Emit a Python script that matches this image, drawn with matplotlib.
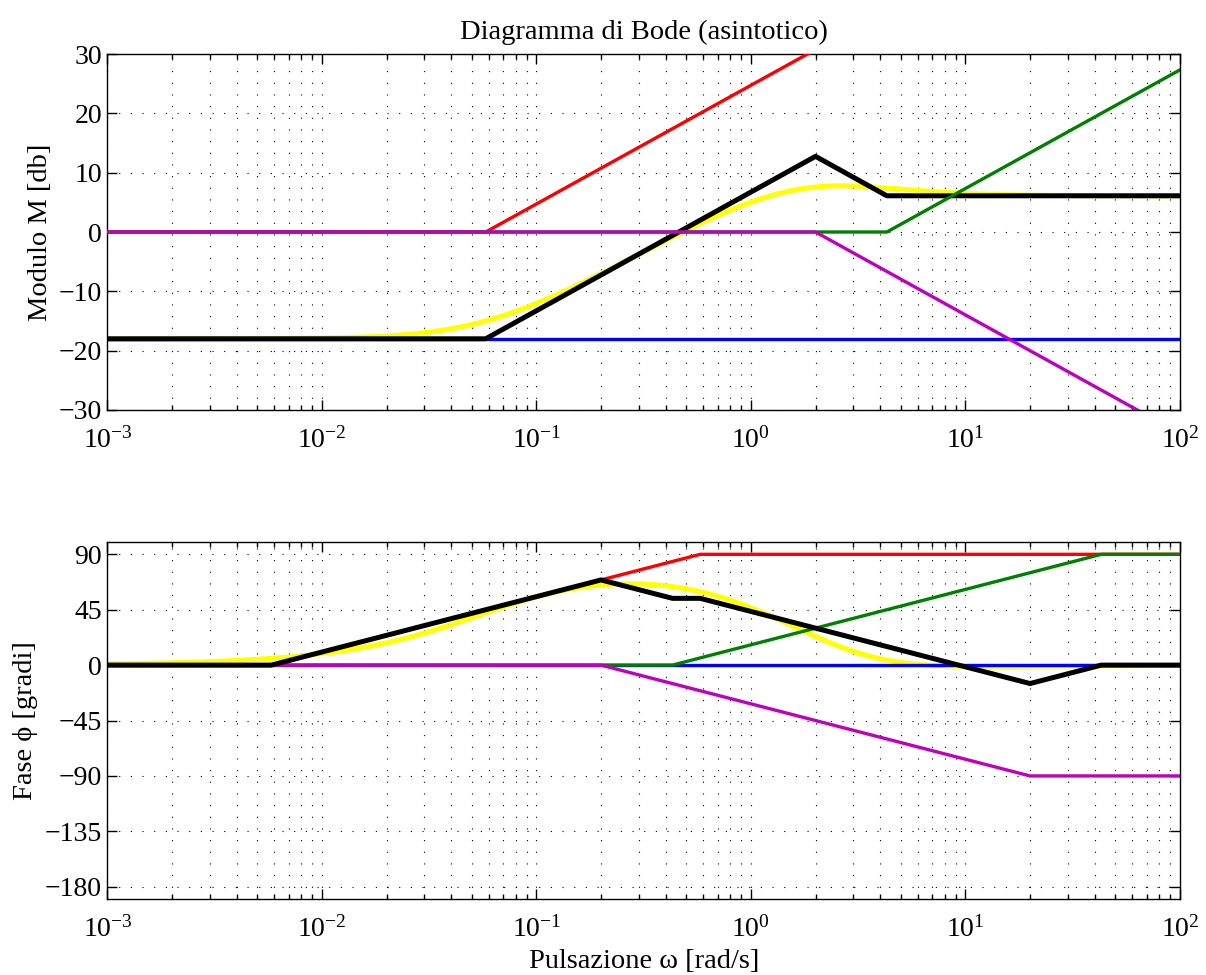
import numpy as np
import matplotlib
matplotlib.use("Agg")
import matplotlib.pyplot as plt
from matplotlib.ticker import LogLocator, NullFormatter

plt.rcParams['font.family'] = ['Liberation Serif', 'DejaVu Serif']
plt.rcParams['mathtext.fontset'] = 'custom'
plt.rcParams['mathtext.rm'] = 'Liberation Serif'
plt.rcParams['mathtext.it'] = 'Liberation Serif:italic'
plt.rcParams['lines.scale_dashes'] = False

# === dati: G(s) = K (1+s/z1)(1+s/z2) / (1+s/p)^2 ===
guadagno_db = -18.0
zeri = [0.058, 4.3]          # rosso, verde
poli = [2.0, 2.0]            # polo doppio (viola, disegnato una volta)
colori_zeri = ['#ff0000', '#008000']
colore_polo = '#bf00bf'
colore_guadagno = '#0000ff'
w_min, w_max = 1e-3, 1e2
tick_modulo = [-30, -20, -10, 0, 10, 20, 30]
tick_fase = [-180, -135, -90, -45, 0, 45, 90]

# === pulsazioni (con i punti di rottura per avere spigoli netti) ===
w = np.logspace(np.log10(w_min), np.log10(w_max), 800)
w = np.union1d(w, [b * f for b in zeri + poli for f in (0.1, 1.0, 10.0)])
w = w[(w >= w_min) & (w <= w_max)]


def modulo_zero(w, wz):
    return 20 * np.log10(np.maximum(1.0, w / wz))


def fase_zero(w, wz):
    return 45 * np.clip(np.log10(w / wz) + 1, 0, 2)


# asintoti singoli
m_gain = np.full_like(w, guadagno_db)
f_gain = np.zeros_like(w)
m_zeri = [modulo_zero(w, z) for z in zeri]
f_zeri = [fase_zero(w, z) for z in zeri]
m_poli = [-modulo_zero(w, p) for p in poli]
f_poli = [-fase_zero(w, p) for p in poli]

# asintoto totale
m_tot = m_gain + sum(m_zeri) + sum(m_poli)
f_tot = f_gain + sum(f_zeri) + sum(f_poli)

# risposta reale
s = 1j * w
G = 10 ** (guadagno_db / 20) * np.ones_like(s)
for z in zeri:
    G = G * (1 + s / z)
for p in poli:
    G = G / (1 + s / p)
m_vera = 20 * np.log10(np.abs(G))
f_vera = np.degrees(np.angle(G))

# === figura ===
fig = plt.figure(figsize=(12.06, 9.75), dpi=100)
ax1 = fig.add_axes([0.0891, 0.5795, 0.8893, 0.3651])
ax2 = fig.add_axes([0.0891, 0.0779, 0.8893, 0.3662])

lw = 2.4
lw_big = 3.6
grid_kw = dict(color='k', linestyle=(0, (0.8, 7.6)), linewidth=0.8)

# modulo
ax1.semilogx(w, m_vera, color='#ffff00', lw=lw_big, zorder=2)
ax1.semilogx(w, m_gain, color=colore_guadagno, lw=lw, zorder=3)
ax1.semilogx(w, m_tot, color='k', lw=lw_big, zorder=4)
ax1.semilogx(w, m_zeri[0], color=colori_zeri[0], lw=lw, zorder=5)
ax1.semilogx(w, m_zeri[1], color=colori_zeri[1], lw=lw, zorder=6)
ax1.semilogx(w, m_poli[0], color=colore_polo, lw=lw, zorder=7)

# fase
ax2.semilogx(w, f_vera, color='#ffff00', lw=lw_big, zorder=2)
ax2.semilogx(w, f_gain, color=colore_guadagno, lw=lw, zorder=3)
ax2.semilogx(w, f_zeri[0], color=colori_zeri[0], lw=lw, zorder=4)
ax2.semilogx(w, f_zeri[1], color=colori_zeri[1], lw=lw, zorder=5)
ax2.semilogx(w, f_poli[0], color=colore_polo, lw=lw, zorder=6)
ax2.semilogx(w, f_tot, color='k', lw=lw_big, zorder=7)

ax1.set_ylim(-30, 30)
ax1.set_yticks(tick_modulo)
ax2.set_ylim(-190, 100)
ax2.set_yticks(tick_fase)

for ax in (ax1, ax2):
    ax.set_xlim(w_min, w_max)
    ax.xaxis.set_major_locator(LogLocator(base=10, numticks=10))
    ax.xaxis.set_minor_locator(LogLocator(base=10, subs=np.arange(2, 10), numticks=20))
    ax.xaxis.set_minor_formatter(NullFormatter())
    ax.tick_params(which='both', direction='in', top=True, right=True,
                   labelsize=20, width=1.0)
    ax.tick_params(axis='x', which='major', length=7, pad=12)
    ax.tick_params(axis='y', which='major', length=7, pad=4)
    ax.tick_params(which='minor', length=3.5)
    ax.grid(True, which='major', **grid_kw)
    ax.xaxis.grid(True, which='minor', **grid_kw)
    for sp in ax.spines.values():
        sp.set_linewidth(1.0)

ax1.set_title("Diagramma di Bode (asintotico)", fontsize=20.5, pad=11)
ax1.set_ylabel("Modulo M [db]", fontsize=20.5, labelpad=4)
ax2.set_ylabel("Fase \u03d5 [gradi]", fontsize=20.5, labelpad=5)
ax2.set_xlabel("Pulsazione \u03c9 [rad/s]", fontsize=20.5, labelpad=5)

fig.savefig("out.png", dpi=100)
